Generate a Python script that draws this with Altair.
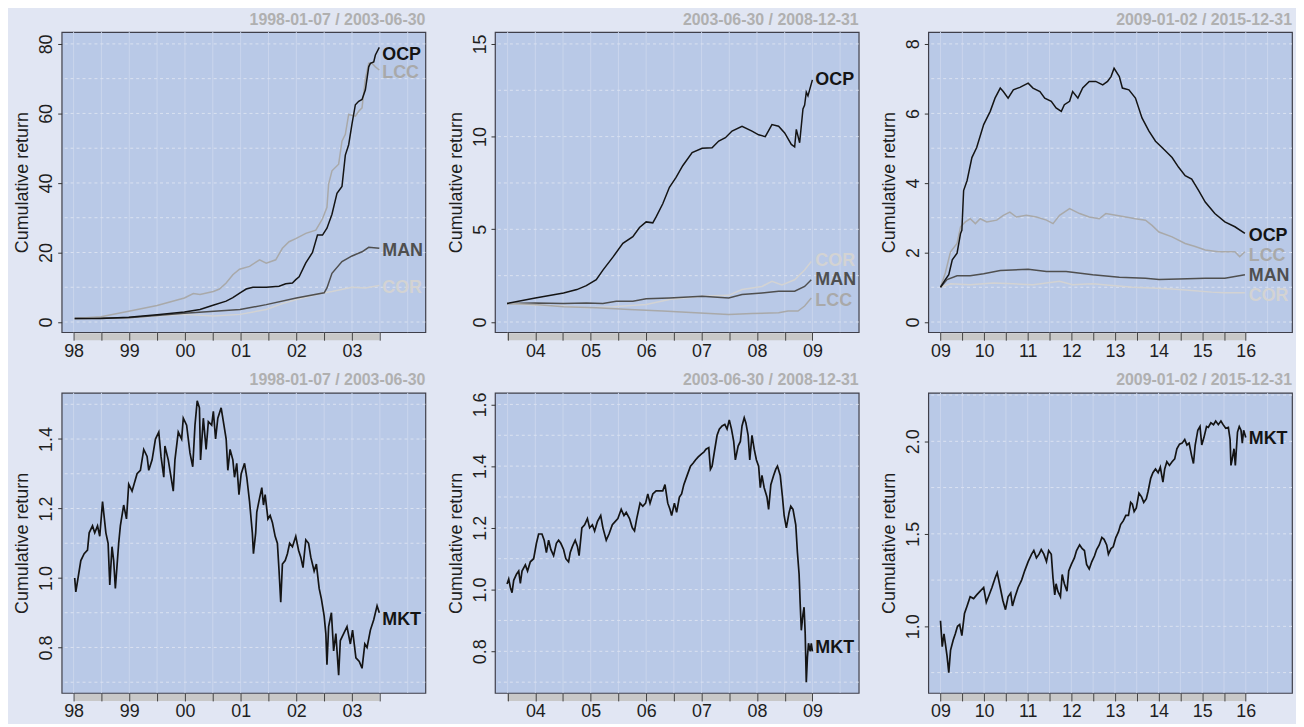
import altair as alt
import pandas as pd

FONT = "Liberation Sans"
BG = "#e1e6f3"
PLOT_BG = "#b9c9e7"
HGRID = "#dbe2f1"
VGRID = "#cad5ec"
BAR = "#c8c8c8"
TXT = "#1e1e1e"
COLORS = {"OCP": "#141414", "LCC": "#a9a9a9", "MAN": "#4f4f4f", "COR": "#d3d3d3", "MKT": "#141414"}
WIDTHS = {"OCP": 1.5, "LCC": 1.5, "MAN": 1.5, "COR": 1.5, "MKT": 1.7}

# ---------------- data (decimal year, cumulative return) ----------------
P1_OCP = [(1998.02,1.0),(1998.49,1.0),(1998.99,1.4),(1999.50,2.1),(1999.99,2.9),(2000.27,3.6),(2000.49,4.75),
          (2000.74,6.0),(2000.86,7.0),(2000.99,8.4),(2001.10,9.5),(2001.22,10.0),(2001.46,10.0),(2001.69,10.3),
          (2001.81,11.0),(2001.93,11.2),(2001.99,12.2),(2002.05,13.0),(2002.17,17.0),(2002.29,20.0),(2002.38,25.0),
          (2002.47,25.0),(2002.55,27.0),(2002.64,31.0),(2002.73,37.0),(2002.82,39.0),(2002.88,48.0),(2002.94,51.0),
          (2003.00,57.0),(2003.06,62.5),(2003.12,63.5),(2003.18,64.0),(2003.24,66.8),(2003.30,73.4),(2003.33,74.4),
          (2003.39,74.8),(2003.42,76.8),(2003.49,79.0)]
P1_LCC = [(1998.02,1.0),(1998.49,1.5),(1998.99,3.1),(1999.50,4.75),(1999.99,6.9),(2000.15,8.2),(2000.27,7.9),
          (2000.51,8.8),(2000.62,9.5),(2000.74,11.2),(2000.86,13.6),(2000.98,15.2),(2001.16,16.0),(2001.34,17.9),
          (2001.46,16.9),(2001.63,17.9),(2001.75,21.2),(2001.87,23.1),(2001.99,24.0),(2002.17,25.5),(2002.35,26.4),
          (2002.47,29.7),(2002.55,33.0),(2002.58,39.7),(2002.64,43.5),(2002.76,45.4),(2002.82,52.0),(2002.88,54.0),
          (2002.94,59.7),(2003.06,59.2),(2003.12,60.6),(2003.18,61.6),(2003.24,70.0),(2003.30,74.4),(2003.36,74.4),
          (2003.42,73.4),(2003.49,72.5)]
P1_MAN = [(1998.02,1.0),(1998.99,1.2),(1999.99,2.5),(2000.99,3.6),(2001.46,5.0),(2002.00,6.9),(2002.50,8.4),
          (2002.55,9.8),(2002.64,14.0),(2002.82,17.4),(2003.00,19.0),(2003.18,20.2),(2003.30,21.5),(2003.49,21.2)]
P1_COR = [(1998.02,1.0),(1998.99,1.2),(1999.99,2.2),(2000.51,1.7),(2000.99,2.2),(2001.46,3.6),(2001.75,5.3),
          (2002.00,6.5),(2002.50,8.4),(2002.64,8.8),(2003.00,10.0),(2003.24,9.8),(2003.49,10.5)]

P2_OCP = [(2003.49,1.0),(2004.00,1.3),(2004.51,1.57),(2004.75,1.75),(2004.92,1.96),(2005.10,2.28),(2005.22,2.8),
          (2005.40,3.5),(2005.58,4.24),(2005.76,4.6),(2005.88,5.1),(2006.00,5.4),(2006.12,5.35),(2006.18,5.67),
          (2006.30,6.38),(2006.42,7.27),(2006.54,7.8),(2006.66,8.43),(2006.83,9.14),(2007.01,9.37),(2007.19,9.4),
          (2007.31,9.76),(2007.43,9.94),(2007.55,10.3),(2007.73,10.56),(2007.91,10.3),(2008.03,10.1),(2008.15,10.0),
          (2008.27,10.65),(2008.39,10.56),(2008.50,10.2),(2008.62,9.58),(2008.68,9.45),(2008.71,10.39),(2008.77,9.67),
          (2008.83,11.5),(2008.86,11.7),(2008.89,12.4),(2008.92,12.2),(2009.00,13.06)]
P2_COR = [(2003.49,1.0),(2004.00,0.9),(2004.51,0.86),(2004.92,0.77),(2005.40,0.82),(2006.00,0.94),(2006.42,1.21),
          (2007.01,1.39),(2007.49,1.44),(2007.73,1.75),(2008.09,1.92),(2008.27,2.19),(2008.45,2.0),(2008.68,2.28),
          (2008.86,2.81),(2008.98,3.26)]
P2_MAN = [(2003.49,1.0),(2004.00,1.03),(2004.51,1.0),(2004.92,1.03),(2005.22,1.0),(2005.46,1.12),(2005.76,1.12),
          (2006.00,1.25),(2006.42,1.3),(2007.01,1.39),(2007.49,1.3),(2007.73,1.48),(2008.09,1.57),(2008.39,1.66),
          (2008.68,1.66),(2008.86,1.92),(2008.98,2.28)]
P2_LCC = [(2003.49,1.0),(2004.00,0.94),(2004.51,0.82),(2005.10,0.77),(2005.70,0.68),(2006.30,0.59),(2006.89,0.5),
          (2007.49,0.41),(2007.91,0.46),(2008.39,0.5),(2008.56,0.59),(2008.74,0.59),(2008.86,0.86),(2008.98,1.3)]

P3_OCP = [(2009.00,1.0),(2009.11,1.22),(2009.19,1.36),(2009.27,1.79),(2009.38,1.98),(2009.46,2.55),(2009.49,2.64),
          (2009.53,3.78),(2009.61,4.07),(2009.72,4.73),(2009.83,5.02),(2009.99,5.68),(2010.14,6.06),(2010.25,6.44),
          (2010.37,6.73),(2010.44,6.63),(2010.55,6.44),(2010.67,6.68),(2010.82,6.75),(2011.01,6.87),(2011.12,6.73),
          (2011.28,6.63),(2011.39,6.44),(2011.54,6.35),(2011.65,6.16),(2011.77,6.06),(2011.84,6.25),(2011.96,6.35),
          (2012.03,6.63),(2012.15,6.44),(2012.26,6.73),(2012.41,6.92),(2012.56,6.92),(2012.72,6.82),(2012.83,6.92),
          (2012.91,7.06),(2012.98,7.3),(2013.10,7.06),(2013.17,6.73),(2013.32,6.68),(2013.47,6.44),(2013.62,5.87),
          (2013.78,5.49),(2013.93,5.2),(2014.08,5.02),(2014.31,4.73),(2014.46,4.45),(2014.61,4.21),(2014.76,4.11),
          (2014.92,3.78),(2015.07,3.45),(2015.29,3.12),(2015.52,2.88),(2015.75,2.74),(2015.98,2.55)]
P3_LCC = [(2009.00,1.0),(2009.11,1.41),(2009.23,2.02),(2009.38,2.26),(2009.46,2.74),(2009.57,2.88),(2009.68,2.97),
          (2009.80,2.83),(2009.91,2.97),(2010.06,2.88),(2010.29,2.93),(2010.44,3.07),(2010.59,3.16),(2010.74,3.02),
          (2010.97,3.07),(2011.20,3.02),(2011.43,2.93),(2011.58,2.83),(2011.73,3.07),(2011.96,3.26),(2012.19,3.12),
          (2012.41,3.02),(2012.64,2.97),(2012.79,3.12),(2013.02,3.07),(2013.25,3.02),(2013.47,2.97),(2013.70,2.93),
          (2013.85,2.78),(2014.01,2.59),(2014.31,2.45),(2014.61,2.26),(2014.84,2.17),(2015.07,2.07),(2015.37,2.02),
          (2015.60,2.02),(2015.75,2.02),(2015.86,1.88),(2015.98,2.02)]
P3_MAN = [(2009.00,1.0),(2009.15,1.22),(2009.38,1.33),(2009.68,1.33),(2009.99,1.39),(2010.37,1.48),(2011.01,1.52),
          (2011.43,1.45),(2011.88,1.45),(2012.49,1.36),(2013.10,1.29),(2013.70,1.26),(2014.01,1.22),(2014.46,1.24),
          (2015.07,1.26),(2015.52,1.26),(2015.98,1.36)]
P3_COR = [(2009.00,1.0),(2009.23,1.10),(2009.68,1.07),(2010.21,1.12),(2010.67,1.10),(2011.12,1.07),(2011.43,1.12),
          (2011.73,1.17),(2012.03,1.07),(2012.49,1.10),(2012.94,1.05),(2013.40,1.0),(2013.85,0.98),(2014.31,0.95),
          (2014.76,0.91),(2015.22,0.86),(2015.52,0.84),(2015.98,0.84)]

P4_MKT = [(1998.02,1.00),(1998.04,0.96),(1998.13,1.05),(1998.19,1.07),(1998.25,1.08),(1998.28,1.13),(1998.34,1.15),
          (1998.38,1.13),(1998.43,1.15),(1998.47,1.12),(1998.52,1.22),(1998.58,1.13),(1998.62,1.10),(1998.65,0.98),
          (1998.69,1.09),(1998.72,1.05),(1998.75,0.97),(1998.81,1.10),(1998.84,1.15),(1998.90,1.21),(1998.95,1.17),
          (1998.99,1.27),(1999.05,1.25),(1999.14,1.30),(1999.20,1.31),(1999.26,1.37),(1999.32,1.35),(1999.35,1.31),
          (1999.41,1.34),(1999.47,1.40),(1999.53,1.42),(1999.57,1.35),(1999.62,1.29),(1999.64,1.38),(1999.70,1.34),
          (1999.76,1.28),(1999.79,1.25),(1999.82,1.34),(1999.88,1.42),(1999.94,1.40),(1999.97,1.46),(2000.03,1.44),
          (2000.09,1.36),(2000.14,1.32),(2000.18,1.44),(2000.22,1.51),(2000.26,1.49),(2000.28,1.34),(2000.33,1.46),
          (2000.38,1.37),(2000.42,1.45),(2000.48,1.44),(2000.51,1.48),(2000.55,1.40),(2000.59,1.46),(2000.65,1.49),
          (2000.70,1.44),(2000.74,1.40),(2000.77,1.31),(2000.81,1.37),(2000.86,1.34),(2000.89,1.29),(2000.93,1.33),
          (2000.97,1.24),(2001.01,1.30),(2001.07,1.33),(2001.11,1.29),(2001.16,1.22),(2001.21,1.13),(2001.23,1.07),
          (2001.27,1.13),(2001.29,1.19),(2001.34,1.23),(2001.38,1.26),(2001.41,1.21),(2001.44,1.24),(2001.49,1.17),
          (2001.53,1.18),(2001.57,1.16),(2001.62,1.12),(2001.66,1.10),(2001.69,1.02),(2001.72,0.93),(2001.75,1.04),
          (2001.80,1.05),(2001.84,1.07),(2001.88,1.10),(2001.93,1.09),(2001.99,1.12),(2002.04,1.08),(2002.08,1.06),
          (2002.12,1.03),(2002.17,1.11),(2002.22,1.10),(2002.26,1.06),(2002.32,1.02),(2002.36,1.04),(2002.41,0.97),
          (2002.45,0.94),(2002.50,0.89),(2002.53,0.84),(2002.55,0.75),(2002.58,0.86),(2002.63,0.90),(2002.67,0.79),
          (2002.71,0.84),(2002.76,0.72),(2002.79,0.82),(2002.85,0.84),(2002.91,0.86),(2002.97,0.81),(2003.01,0.85),
          (2003.07,0.77),(2003.13,0.76),(2003.18,0.74),(2003.23,0.81),(2003.27,0.80),(2003.33,0.85),(2003.39,0.88),
          (2003.45,0.92),(2003.49,0.90)]

P5_MKT = [(2003.49,1.018),(2003.52,1.034),(2003.55,1.007),(2003.58,0.99),(2003.61,1.03),(2003.66,1.05),(2003.70,1.06),
          (2003.73,1.02),(2003.76,1.06),(2003.82,1.08),(2003.86,1.06),(2003.91,1.09),(2003.97,1.10),(2004.02,1.15),
          (2004.06,1.18),(2004.12,1.18),(2004.16,1.16),(2004.20,1.12),(2004.24,1.16),(2004.28,1.13),(2004.33,1.11),
          (2004.38,1.15),(2004.42,1.16),(2004.46,1.15),(2004.51,1.13),(2004.55,1.10),(2004.60,1.09),(2004.63,1.12),
          (2004.67,1.14),(2004.72,1.16),(2004.76,1.14),(2004.79,1.11),(2004.84,1.20),(2004.89,1.21),(2004.94,1.23),
          (2004.98,1.20),(2005.03,1.21),(2005.07,1.19),(2005.12,1.22),(2005.18,1.24),(2005.22,1.20),(2005.28,1.16),
          (2005.33,1.18),(2005.39,1.21),(2005.44,1.22),(2005.49,1.23),(2005.55,1.26),(2005.60,1.24),(2005.64,1.25),
          (2005.70,1.23),(2005.75,1.20),(2005.79,1.19),(2005.83,1.23),(2005.89,1.28),(2005.94,1.27),(2005.99,1.28),
          (2006.03,1.31),(2006.07,1.28),(2006.12,1.31),(2006.18,1.32),(2006.24,1.32),(2006.30,1.32),(2006.34,1.34),
          (2006.39,1.28),(2006.43,1.26),(2006.46,1.24),(2006.51,1.28),(2006.55,1.25),(2006.60,1.30),(2006.64,1.31),
          (2006.68,1.34),(2006.74,1.37),(2006.80,1.40),(2006.85,1.41),(2006.89,1.42),(2006.94,1.43),(2007.00,1.44),
          (2007.04,1.445),(2007.08,1.455),(2007.13,1.46),(2007.16,1.39),(2007.19,1.40),(2007.23,1.445),(2007.28,1.50),
          (2007.32,1.52),(2007.37,1.53),(2007.42,1.535),(2007.46,1.52),(2007.50,1.55),(2007.54,1.52),(2007.58,1.48),
          (2007.61,1.42),(2007.66,1.465),(2007.70,1.48),(2007.73,1.53),(2007.77,1.557),(2007.80,1.54),(2007.84,1.50),
          (2007.87,1.42),(2007.91,1.50),(2007.95,1.455),(2007.99,1.42),(2008.03,1.40),(2008.06,1.33),(2008.09,1.37),
          (2008.13,1.33),(2008.18,1.30),(2008.21,1.26),(2008.25,1.34),(2008.30,1.37),(2008.34,1.39),(2008.37,1.40),
          (2008.42,1.37),(2008.46,1.30),(2008.49,1.24),(2008.53,1.20),(2008.58,1.25),(2008.61,1.27),(2008.65,1.26),
          (2008.70,1.21),(2008.73,1.12),(2008.76,1.05),(2008.78,0.954),(2008.80,0.868),(2008.83,0.92),(2008.85,0.943),
          (2008.87,0.858),(2008.89,0.70),(2008.91,0.78),(2008.93,0.826),(2008.96,0.80),(2008.98,0.826),(2009.00,0.80)]

P6_MKT = [(2009.00,1.03),(2009.04,0.89),(2009.08,0.96),(2009.11,0.91),(2009.15,0.84),(2009.19,0.75),(2009.23,0.87),
          (2009.29,0.925),(2009.34,0.96),(2009.39,1.0),(2009.44,1.01),(2009.49,0.95),(2009.55,1.07),(2009.61,1.11),
          (2009.68,1.16),(2009.76,1.15),(2009.83,1.17),(2009.91,1.19),(2009.99,1.21),(2010.05,1.13),(2010.10,1.16),
          (2010.18,1.21),(2010.25,1.26),(2010.30,1.29),(2010.37,1.21),(2010.43,1.14),(2010.49,1.09),(2010.55,1.16),
          (2010.61,1.18),(2010.65,1.11),(2010.71,1.16),(2010.78,1.21),(2010.86,1.25),(2010.93,1.30),(2011.01,1.35),
          (2011.09,1.39),(2011.14,1.41),(2011.20,1.37),(2011.26,1.39),(2011.31,1.415),(2011.37,1.39),(2011.43,1.35),
          (2011.48,1.41),(2011.54,1.39),(2011.58,1.26),(2011.62,1.17),(2011.65,1.23),(2011.69,1.19),(2011.75,1.16),
          (2011.79,1.28),(2011.84,1.23),(2011.90,1.19),(2011.94,1.30),(2012.00,1.335),(2012.07,1.37),(2012.12,1.41),
          (2012.19,1.44),(2012.25,1.42),(2012.30,1.41),(2012.35,1.335),(2012.41,1.31),(2012.47,1.35),(2012.53,1.38),
          (2012.58,1.415),(2012.64,1.44),(2012.70,1.48),(2012.75,1.47),(2012.81,1.44),(2012.85,1.39),(2012.91,1.42),
          (2012.96,1.43),(2013.02,1.48),(2013.08,1.51),(2013.13,1.55),(2013.19,1.57),(2013.25,1.60),(2013.31,1.60),
          (2013.36,1.67),(2013.40,1.66),(2013.44,1.62),(2013.49,1.64),(2013.55,1.72),(2013.61,1.70),(2013.66,1.67),
          (2013.72,1.69),(2013.76,1.73),(2013.82,1.80),(2013.87,1.83),(2013.93,1.85),(2013.99,1.83),(2014.04,1.86),
          (2014.10,1.78),(2014.14,1.85),(2014.19,1.89),(2014.25,1.87),(2014.31,1.89),(2014.37,1.905),(2014.42,1.96),
          (2014.48,1.985),(2014.54,1.99),(2014.60,2.01),(2014.65,1.98),(2014.70,1.99),(2014.76,1.92),(2014.80,1.88),
          (2014.84,1.98),(2014.90,2.06),(2014.95,2.08),(2014.99,1.98),(2015.04,2.02),(2015.10,2.08),(2015.14,2.075),
          (2015.20,2.10),(2015.26,2.09),(2015.31,2.11),(2015.37,2.09),(2015.43,2.11),(2015.48,2.09),(2015.54,2.07),
          (2015.60,2.075),(2015.64,2.01),(2015.66,1.87),(2015.69,1.905),(2015.73,1.96),(2015.76,1.87),(2015.81,2.05),
          (2015.85,2.08),(2015.89,2.06),(2015.92,1.99),(2015.95,2.06),(2016.00,2.02)]

# series label anchors (end of series, value where the name is written)
P1_LABELS = [("OCP", 76.8), ("LCC", 71.5), ("MAN", 20.5), ("COR", 9.8)]
P2_LABELS = [("OCP", 13.06), ("COR", 3.3), ("MAN", 2.24), ("LCC", 1.12)]
P3_LABELS = [("OCP", 2.48), ("LCC", 1.9), ("MAN", 1.33), ("COR", 0.74)]
P4_LABELS = [("MKT", 0.88)]
P5_LABELS = [("MKT", 0.81)]
P6_LABELS = [("MKT", 2.01)]

TITLES = ["1998-01-07 / 2003-06-30", "2003-06-30 / 2008-12-31", "2009-01-02 / 2015-12-31"]
PERIODS = [(1998.02, 2003.49), (2003.49, 2009.0), (2009.0, 2016.0)]
X_DOMAINS = [(1997.786, 2004.318), (2003.272, 2009.836), (2008.72, 2017.06)]
X_TICKS = [[1998 + 0.5 * i for i in range(12)], [2003.5 + 0.5 * i for i in range(12)], [2009 + 0.5 * i for i in range(15)]]
X_GRID = [[1998 + 0.5 * i for i in range(13)], [2003.5 + 0.5 * i for i in range(13)], [2009 + 0.5 * i for i in range(16)]]

Y_DOMAINS = [(-2.93, 83.4), (-0.55, 15.64), (-0.293, 8.34), (0.669, 1.533), (0.665, 1.6375), (0.64, 2.262)]
Y_TICKS = [[0, 20, 40, 60, 80], [0, 5, 10, 15], [0, 2, 4, 6, 8],
           [0.8, 1.0, 1.2, 1.4], [0.8, 1.0, 1.2, 1.4, 1.6], [1.0, 1.5, 2.0]]
Y_GRID = [[10 * i for i in range(9)], [2.5 * i for i in range(7)], [i for i in range(9)],
          [0.7 + 0.1 * i for i in range(9)], [0.7 + 0.1 * i for i in range(10)], [0.75 + 0.25 * i for i in range(7)]]
Y_FMT = ["d", "d", "d", ".1f", ".1f", ".1f"]

W, H = 366, 302


def panel(k, col, series, labels):
    xs = alt.Scale(domain=list(X_DOMAINS[col]), nice=False, zero=False)
    ys = alt.Scale(domain=list(Y_DOMAINS[k]), nice=False, zero=False)
    start, end = PERIODS[col]
    xaxis = alt.Axis(
        values=X_TICKS[col], labelExpr="datum.value % 1 == 0 ? slice(toString(datum.value), 2) : ''",
        grid=False, domain=False, ticks=True, tickSize=8, tickColor="#444444", tickWidth=1,
        labelPadding=2, labelFontSize=18, labelFont=FONT, labelColor=TXT, labelFlush=False,
        labelOverlap=False, labelBound=False, title=None, zindex=1)
    yaxis = alt.Axis(
        values=Y_TICKS[k], format=Y_FMT[k], title="Cumulative return", grid=False, domain=False,
        ticks=True, tickSize=4, tickColor="#333333", labelAngle=270, labelAlign="center",
        labelBaseline="bottom", labelPadding=2, labelFontSize=18, labelFont=FONT, labelColor=TXT,
        titleFont=FONT, titleFontSize=18, titleFontWeight="normal", titleColor=TXT, titlePadding=6,
        labelOverlap=False, labelFlush=False)

    def X(f):
        return alt.X(f, scale=xs, axis=xaxis, title=None)

    def Y(f):
        return alt.Y(f, scale=ys, axis=yaxis, title="Cumulative return")

    vgrid = alt.Chart(pd.DataFrame({"x": X_GRID[col]})).mark_rule(color=VGRID, strokeWidth=1).encode(
        x=X("x:Q"))
    hgrid = alt.Chart(pd.DataFrame({"y": Y_GRID[k]})).mark_rule(
        color=HGRID, strokeWidth=1, strokeDash=[3, 3]).encode(y=Y("y:Q"))
    bar = alt.Chart(pd.DataFrame({"a": [start], "b": [end]})).mark_rect(color=BAR).encode(
        x=X("a:Q"), x2="b:Q", y=alt.value(H + 1), y2=alt.value(H + 8))
    layers = [vgrid, hgrid, bar]
    for name, pts in series:
        df = pd.DataFrame(pts, columns=["t", "v"])
        layers.append(alt.Chart(df).mark_line(color=COLORS[name], strokeWidth=WIDTHS[name]).encode(
            x=X("t:Q"), y=Y("v:Q")))
    ldf = pd.DataFrame({"t": [end] * len(labels), "v": [v for _, v in labels],
                        "name": [n for n, _ in labels], "c": [COLORS[n] for n, _ in labels]})
    layers.append(alt.Chart(ldf).mark_text(align="left", baseline="middle", dx=3, fontSize=18,
                                           fontWeight="bold", font=FONT).encode(
        x=X("t:Q"), y=Y("v:Q"), text="name:N", color=alt.Color("c:N", scale=None)))
    return alt.layer(*layers).properties(
        width=W, height=H,
        title=alt.TitleParams(TITLES[col], anchor="end", frame="group", fontSize=16, fontWeight="bold",
                              color="#b0b0b0", font=FONT, offset=4))


p1 = panel(0, 0, [("COR", P1_COR), ("MAN", P1_MAN), ("LCC", P1_LCC), ("OCP", P1_OCP)], P1_LABELS)
p2 = panel(1, 1, [("COR", P2_COR), ("MAN", P2_MAN), ("LCC", P2_LCC), ("OCP", P2_OCP)], P2_LABELS)
p3 = panel(2, 2, [("COR", P3_COR), ("MAN", P3_MAN), ("LCC", P3_LCC), ("OCP", P3_OCP)], P3_LABELS)
p4 = panel(3, 0, [("MKT", P4_MKT)], P4_LABELS)
p5 = panel(4, 1, [("MKT", P5_MKT)], P5_LABELS)
p6 = panel(5, 2, [("MKT", P6_MKT)], P6_LABELS)

row1 = alt.hconcat(p1, p2, p3, spacing=19)
row2 = alt.hconcat(p4, p5, p6, spacing=19)
chart = alt.vconcat(row1, row2, spacing=10).properties(
    padding={"left": 5, "top": 0, "right": 2, "bottom": 0}
).configure(background=BG).configure_view(fill=PLOT_BG, stroke="#3f3f4a", strokeWidth=1.2)

chart.save("out.html", embed_options={"renderer": "svg", "actions": False})
